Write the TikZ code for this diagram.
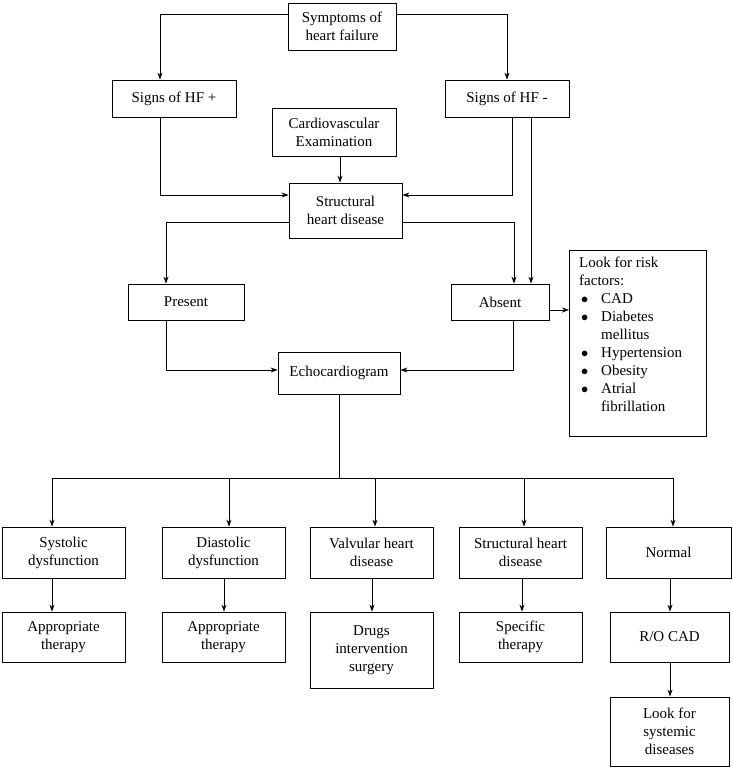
\documentclass[tikz,border=0pt]{standalone}
\usepackage{fontspec}
\setmainfont{Liberation Serif}
\usetikzlibrary{arrows.meta}
\begin{document}
\begin{tikzpicture}[x=1pt,y=-1pt,
  box/.style={draw,line width=0.8pt,align=center,inner sep=2pt,font=\fontsize{15}{18}\selectfont},
  arr/.style={-{Stealth[length=7pt,width=5pt]},line width=0.8pt},
  ln/.style={line width=0.8pt}]
\useasboundingbox (0,0) rectangle (732,768);
\newcommand\bx[6]{\node[box,minimum width=#3-#2,minimum height=#5-#4] (#1) at ({(#2+#3)/2},{(#4+#5)/2}) {#6};}
\newcommand\blt{\makebox[22pt][l]{\hspace{2pt}$\bullet$}}
\bx{sym}{288}{396}{3}{50}{Symptoms of\\heart failure}
\bx{hfp}{112}{236}{80}{117}{Signs of HF +}
\bx{hfm}{445}{569}{80}{117}{Signs of HF -}
\bx{cve}{272}{396}{108}{156}{Cardiovascular\\Examination}
\bx{shd}{289}{402}{183}{238}{Structural\\heart disease}
\bx{pre}{128}{244}{284}{320}{Present}
\bx{abs}{451}{549}{284}{320}{Absent}
\node[box,minimum width=137,minimum height=186,align=left,anchor=north west,inner sep=0pt] (risk) at (569,250) {};
\node[font=\fontsize{15}{18}\selectfont,align=left,anchor=north west,inner sep=0pt] (risktxt) at (579,257) {Look for risk\\factors:\\
\blt CAD\\\blt Diabetes\\\hspace{22pt}mellitus\\\blt Hypertension\\\blt Obesity\\\blt Atrial\\\hspace{22pt}fibrillation};
\bx{echo}{278}{400}{352}{394}{Echocardiogram}
\bx{sys}{2}{125}{527}{578}{Systolic\\dysfunction}
\bx{dia}{162}{285}{527}{578}{Diastolic\\dysfunction}
\bx{val}{310}{433}{527}{578}{Valvular heart\\disease}
\bx{str}{459}{582}{527}{578}{Structural heart\\disease}
\bx{nor}{606}{731}{527}{578}{Normal}
\bx{at1}{2}{125}{612}{662}{Appropriate\\therapy}
\bx{at2}{162}{285}{612}{662}{Appropriate\\therapy}
\bx{dru}{310}{433}{612}{688}{Drugs\\intervention\\surgery}
\bx{spe}{459}{582}{612}{662}{Specific\\therapy}
\bx{roc}{610}{729}{612}{662}{R/O CAD}
\bx{sysd}{610}{729}{697}{766}{Look for\\systemic\\diseases}
% connectors
\draw[arr] (sym.west|-0,14) -| (hfp.north-|160,0);
\draw[arr] (sym.east|-0,14) -| (hfm.north-|507,0);
\draw[arr] (hfp.south-|160,0) |- (shd.west|-0,195);
\draw[arr] (hfm.south-|512,0) |- (shd.east|-0,195);
\draw[arr] (hfm.south-|531,0) -- (abs.north-|531,0);
\draw[arr] (cve.south-|340,0) -- (shd.north-|340,0);
\draw[arr] (shd.west|-0,222) -| (pre.north-|166,0);
\draw[arr] (shd.east|-0,222) -| (abs.north-|514,0);
\draw[arr] (pre.south-|166,0) |- (echo.west|-0,370);
\draw[arr] (abs.south-|513,0) |- (echo.east|-0,370);
\draw[arr] (abs.east|-0,310) -- (risk.west|-0,310);
\coordinate (j) at (339,478);
\draw[ln] (echo.south-|339,0) -- (j);
\draw[ln] (52,478) -- (673,478);
\foreach \n/\x in {sys/52,dia/229,val/375,str/524,nor/673}{\draw[arr] (\x,478) -- (\n.north-|\x,0);}
\foreach \a/\b/\x in {sys/at1/52,dia/at2/224,val/dru/372,str/spe/522,nor/roc/670,roc/sysd/670}{\draw[arr] (\a.south-|\x,0) -- (\b.north-|\x,0);}
\end{tikzpicture}
\end{document}
